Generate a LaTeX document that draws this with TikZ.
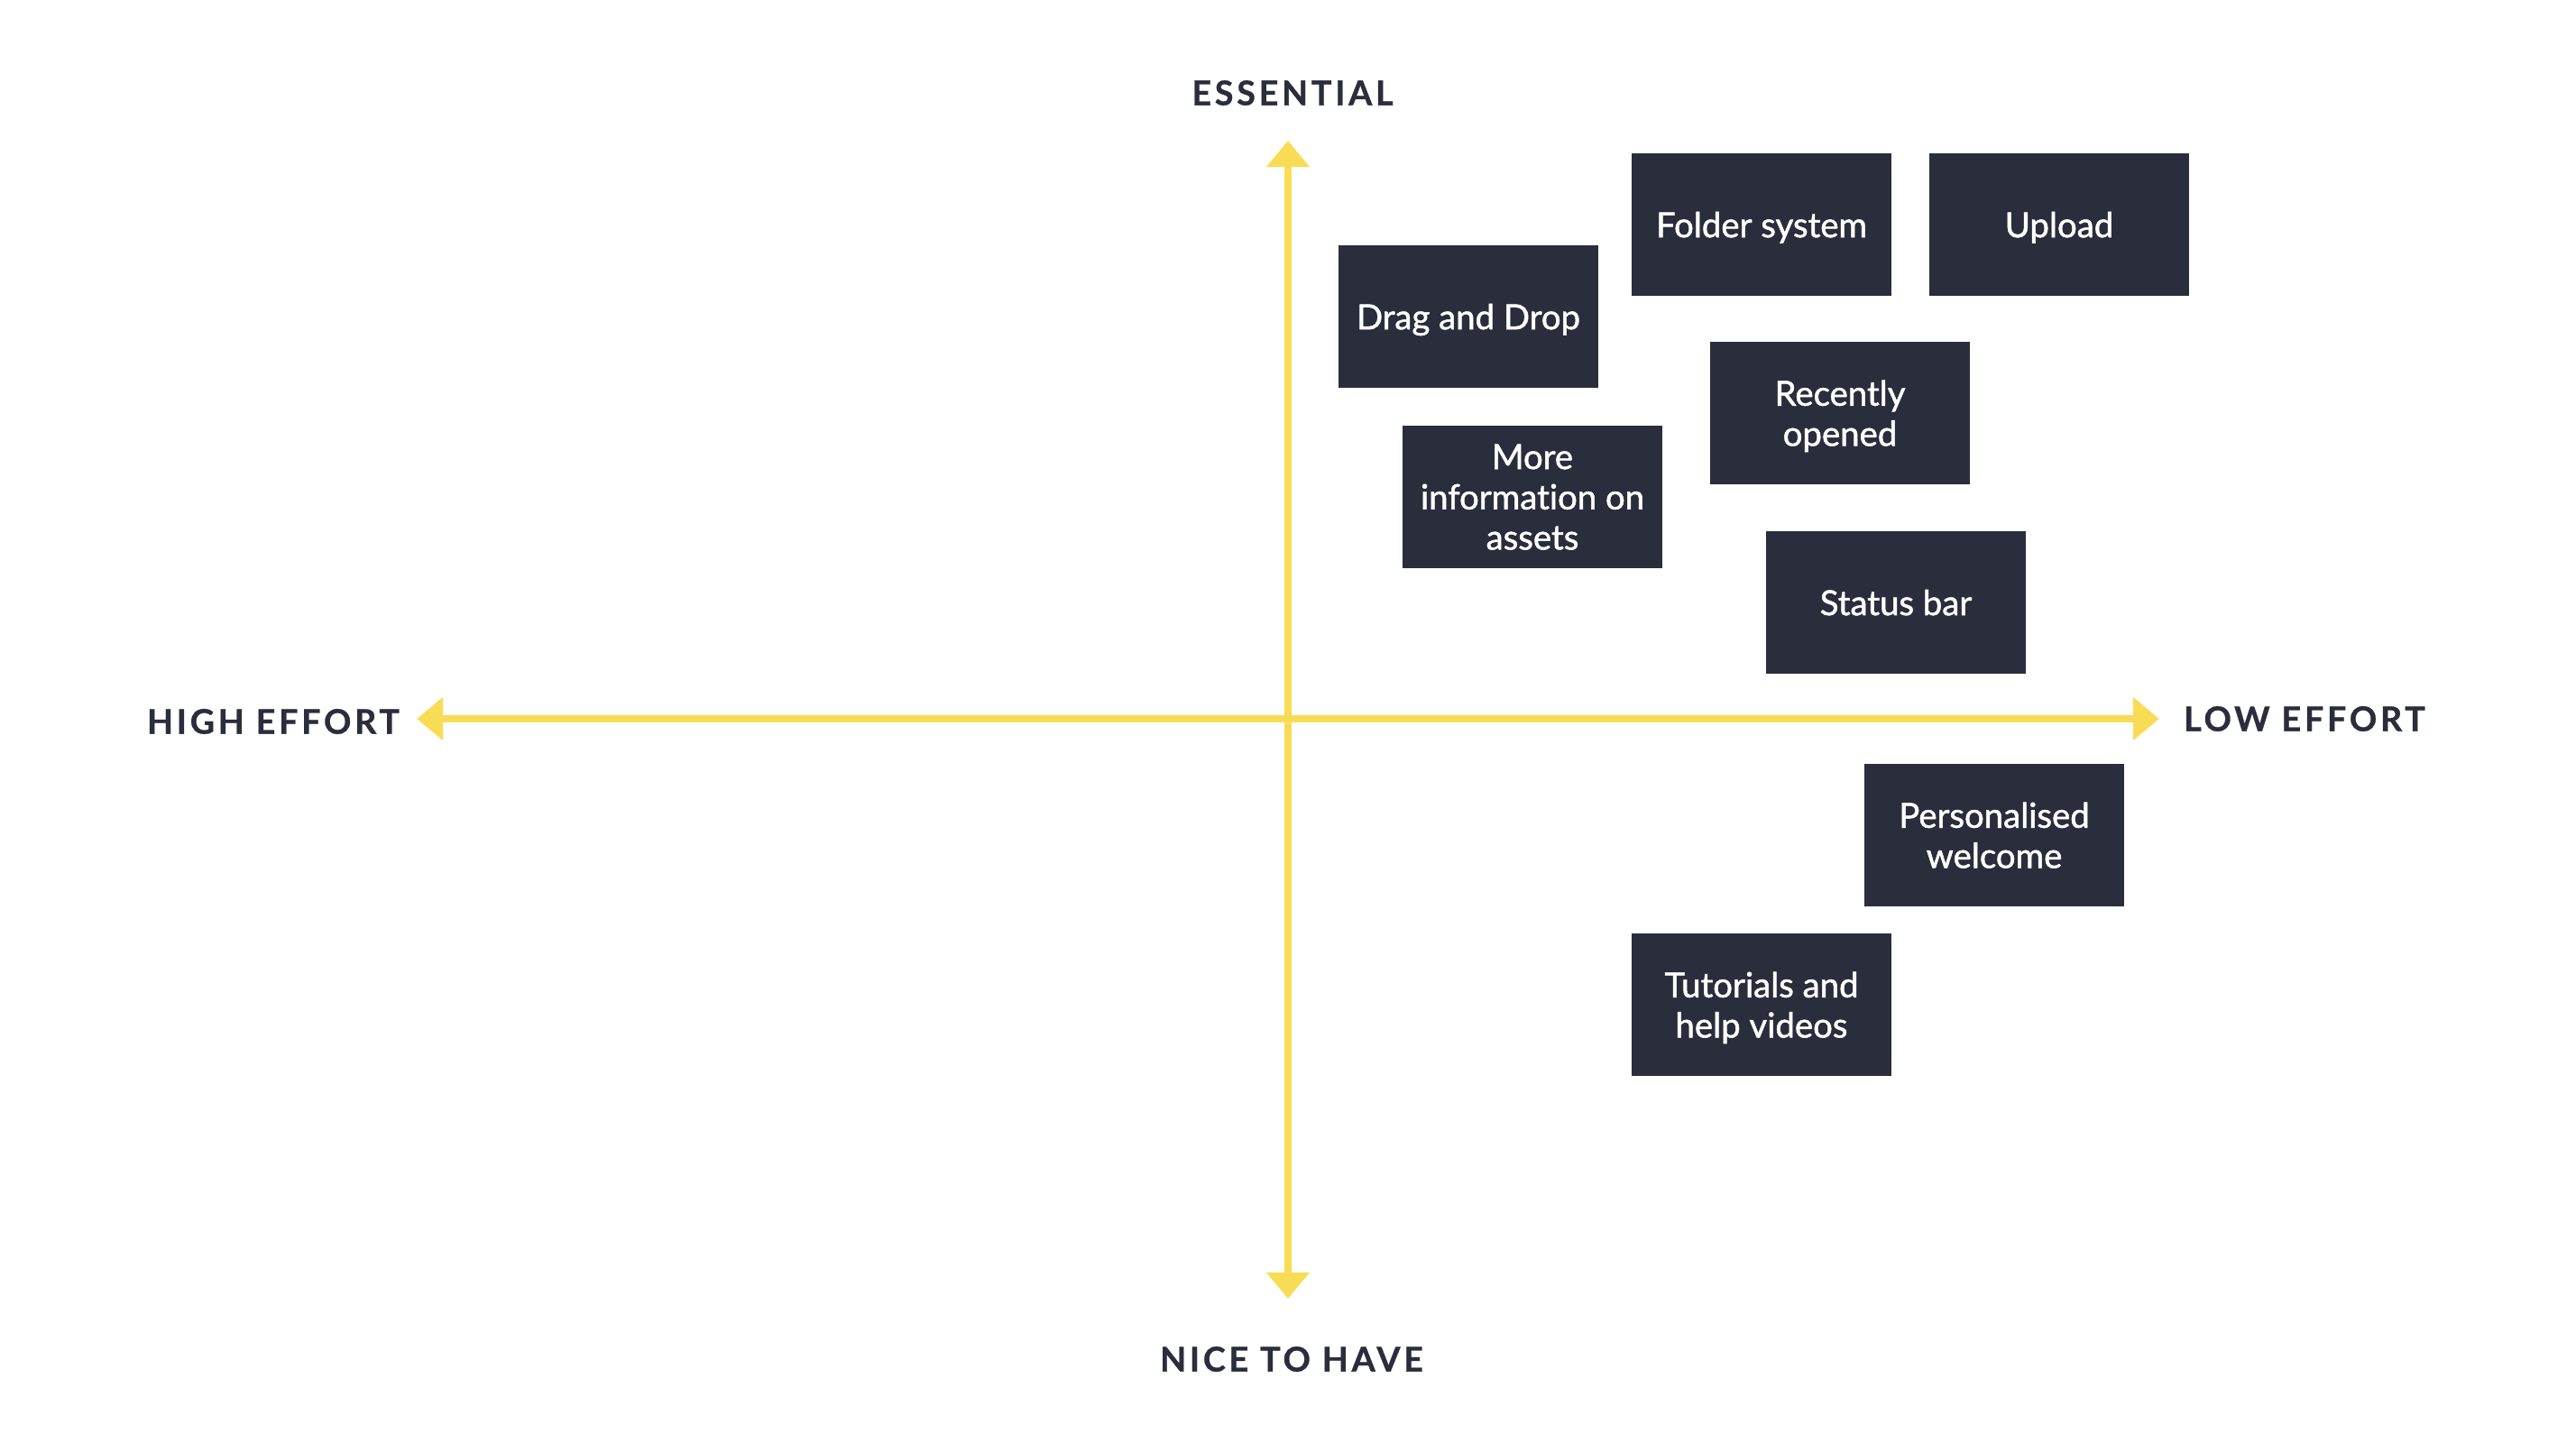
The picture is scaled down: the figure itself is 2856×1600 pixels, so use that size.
\documentclass[tikz,border=0pt]{standalone}
\usepackage{fontspec}
\setmainfont{Lato}[Ligatures=NoCommon]
\newfontfamily\boxfont{Lato}[Ligatures=NoCommon, FakeBold=1.3]
\newfontfamily\axisfont{Lato}[LetterSpace=10, BoldFeatures={FakeBold=0.8}]
\usepackage{xcolor}
\usepackage{tikz}
\usetikzlibrary{arrows.meta,positioning}

\definecolor{navy}{HTML}{2A2D3C}
\definecolor{sun}{HTML}{F9DC55}

\begin{document}
\begin{tikzpicture}[
        x=0.01cm, y=-0.01cm,
        feature/.style={
            rectangle, fill=navy, text=white, draw=none,
            minimum width=2.88cm, minimum height=1.58cm,
            font=\boxfont\fontsize{10.9}{12.7}\selectfont, align=center,
            text depth=0pt, inner sep=2pt
          },
        axislabel/.style={
            text=navy, inner sep=0pt,
            font=\axisfont\fontsize{10.7}{12}\selectfont\bfseries
          },
        axis/.style={
            draw=sun, line width=0.08cm,
            {Triangle[width=0.46cm, length=0.29cm]}-{Triangle[width=0.46cm, length=0.29cm]}
          },
      ]
      \useasboundingbox (0, 0) rectangle (2856, 1600);

      % Axis ends
      \coordinate (top) at (1428, 156);
      \coordinate (bottom) at (1428, 1440);
      \coordinate (left) at (462, 797);
      \coordinate (right) at (2394, 797);

      % Axes
      \draw [axis] (top) -- (bottom);
      \draw [axis] (left) -- (right);

      % Axis labels
      \node [axislabel] (essential) at (1433, 103) {ESSENTIAL};
      \node [axislabel] (nicetohave) at (1432, 1507) {NICE TO HAVE};
      \node [axislabel] (higheffort) at (303, 800) {HIGH EFFORT};
      \node [axislabel] (loweffort) at (2555, 797) {LOW EFFORT};

      % Features
      \node [feature] (dragdrop) at (1628, 351) {Drag and Drop};
      \node [feature] (folders) at (1953, 249) {Folder system};
      \node [feature] (upload) at (2283, 249) {Upload};
      \node [feature] (recent) at (2040, 458) {Recently\\opened};
      \node [feature] (moreinfo) at (1699, 551) {More\\information on\\assets};
      \node [feature] (statusbar) at (2102, 668) {Status bar};
      \node [feature] (welcome) at (2211, 926) {Personalised\\welcome};
      \node [feature] (tutorials) at (1953, 1114) {Tutorials and\\help videos};
    \end{tikzpicture}
\end{document}
